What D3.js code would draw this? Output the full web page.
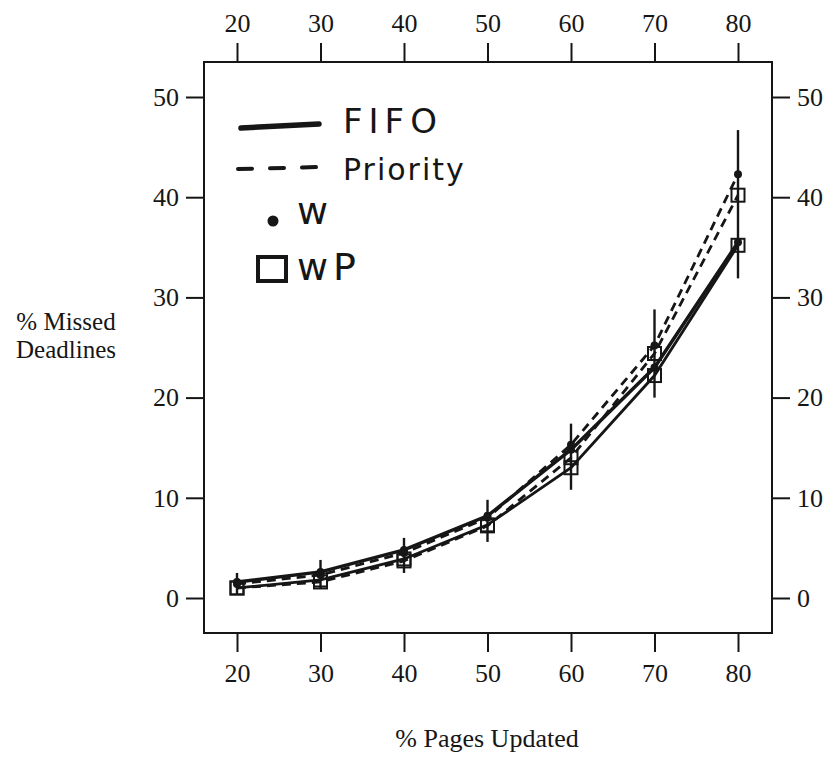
<!DOCTYPE html>
<html><head><meta charset="utf-8">
<script src="https://cdn.jsdelivr.net/npm/d3@7"></script>
<style>body{margin:0;background:#fff}svg{display:block}</style>
</head><body>
<svg id="c" width="830" height="757"></svg>
<script>
const pagesUpdated = [20, 30, 40, 50, 60, 70, 80];
const fifoW  = [1.6, 2.6, 4.8, 8.2, 14.8, 23.0, 35.5];
const fifoWP = [1.0, 1.8, 3.9, 7.3, 13.0, 22.2, 35.2];
const prioW  = [1.4, 2.3, 4.5, 8.0, 15.3, 25.2, 42.3];
const prioWP = [1.0, 1.6, 3.7, 7.2, 14.0, 24.4, 40.2];
const errLow  = [0.3, 1.0, 2.5, 5.6, 10.8, 20.0, 31.9];
const errHigh = [2.5, 3.8, 6.0, 9.8, 17.4, 28.8, 46.7];
const xTicks = [20, 30, 40, 50, 60, 70, 80];
const yTicks = [0, 10, 20, 30, 40, 50];

const svg = d3.select("#c");
const L = 204, R = 772, T = 62, B = 633;
const x = d3.scaleLinear().domain([20, 80]).range([237, 738]);
const y = d3.scaleLinear().domain([0, 50]).range([598, 97]);
const serif = "'Liberation Serif','DejaVu Serif',serif";
const ink = "#161616";

svg.append("rect").attr("x", L).attr("y", T).attr("width", R - L).attr("height", B - T)
  .attr("fill", "none").attr("stroke", ink).attr("stroke-width", 2);

function styleAxis(g) {
  g.select(".domain").remove();
  g.selectAll(".tick line").attr("stroke", ink).attr("stroke-width", 2);
  g.selectAll(".tick text").attr("font-family", serif).attr("font-size", 26).attr("fill", ink);
}
svg.append("g").attr("transform", `translate(0,${T})`)
  .call(d3.axisTop(x).tickValues(xTicks).tickSize(19).tickPadding(11)).call(styleAxis);
svg.append("g").attr("transform", `translate(0,${B})`)
  .call(d3.axisBottom(x).tickValues(xTicks).tickSize(19).tickPadding(12)).call(styleAxis);
svg.append("g").attr("transform", `translate(${L},0)`)
  .call(d3.axisLeft(y).tickValues(yTicks).tickSize(18).tickPadding(7)).call(styleAxis);
svg.append("g").attr("transform", `translate(${R},0)`)
  .call(d3.axisRight(y).tickValues(yTicks).tickSize(18).tickPadding(7)).call(styleAxis);

// error bars
svg.append("g").selectAll("line").data(pagesUpdated).join("line")
  .attr("x1", d => x(d)).attr("x2", d => x(d))
  .attr("y1", (d, i) => y(errLow[i])).attr("y2", (d, i) => y(errHigh[i]))
  .attr("stroke", ink).attr("stroke-width", 2.4);

const line = d3.line().x((d, i) => x(pagesUpdated[i])).y(d => y(d));
const series = [
  {v: fifoW, dash: null, w: 3.4, m: "dot"},
  {v: fifoWP, dash: null, w: 2.8, m: "sq"},
  {v: prioW, dash: "9,6", w: 2.8, m: "dot"},
  {v: prioWP, dash: "9,6", w: 2.8, m: "sq"}
];
series.forEach(s => {
  svg.append("path").attr("d", line(s.v)).attr("fill", "none").attr("stroke", ink)
    .attr("stroke-width", s.w).attr("stroke-dasharray", s.dash);
});
series.forEach(s => {
  const g = svg.append("g");
  if (s.m === "dot") {
    g.selectAll("circle").data(s.v).join("circle")
      .attr("cx", (d, i) => x(pagesUpdated[i])).attr("cy", d => y(d)).attr("r", 4).attr("fill", ink);
  } else {
    g.selectAll("rect").data(s.v).join("rect")
      .attr("x", (d, i) => x(pagesUpdated[i]) - 6.5).attr("y", d => y(d) - 6.5)
      .attr("width", 13).attr("height", 13).attr("fill", "none").attr("stroke", ink).attr("stroke-width", 2);
  }
});

// legend (handwritten in original)
const hand = "'DejaVu Sans',sans-serif";
const lg = svg.append("g");
lg.append("line").attr("x1", 241).attr("x2", 319).attr("y1", 128).attr("y2", 124)
  .attr("stroke", ink).attr("stroke-width", 5.5).attr("stroke-linecap", "round");
lg.append("line").attr("x1", 238).attr("x2", 320).attr("y1", 169).attr("y2", 167)
  .attr("stroke", ink).attr("stroke-width", 4).attr("stroke-linecap", "round")
  .attr("stroke-dasharray", "14,18");
lg.append("circle").attr("cx", 273).attr("cy", 221).attr("r", 5.5).attr("fill", ink);
lg.append("rect").attr("x", 258).attr("y", 257).attr("width", 28).attr("height", 24)
  .attr("fill", "none").attr("stroke", ink).attr("stroke-width", 4);
const legTexts = [["FIFO", 343, 133, 34, 6], ["Priority", 343, 180, 30, 2], ["w", 297, 224, 38, 0], ["wP", 297, 280, 38, 5]];
legTexts.forEach(([t, xx, yy, fs, ls]) => {
  lg.append("text").attr("x", xx).attr("y", yy).text(t)
    .attr("font-family", hand).attr("font-size", fs).attr("letter-spacing", ls)
    .attr("fill", ink);
});

// axis titles
svg.append("text").attr("x", 487).attr("y", 747).attr("text-anchor", "middle")
  .attr("font-family", serif).attr("font-size", 26).attr("fill", ink).text("% Pages Updated");
const yt = svg.append("text").attr("text-anchor", "middle").attr("font-family", serif)
  .attr("font-size", 25).attr("fill", ink);
yt.append("tspan").attr("x", 66).attr("y", 330).text("% Missed");
yt.append("tspan").attr("x", 66).attr("y", 358).text("Deadlines");
</script>
</body></html>
